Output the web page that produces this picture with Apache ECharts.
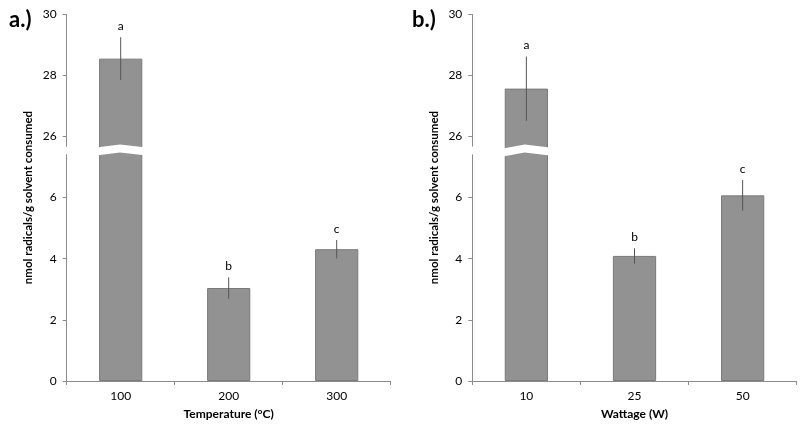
<!DOCTYPE html>
<html>
<head>
<meta charset="utf-8">
<script src="https://cdn.jsdelivr.net/npm/echarts@6/dist/echarts.min.js"></script>
<style>
  html, body { margin: 0; padding: 0; background: #fff; }
  #chart { width: 800px; height: 425px; }
</style>
</head>
<body>
<div id="chart"></div>
<script>
// panel a: temperature
const tempCats = ['100', '200', '300']
const tempMeans = [28.54, 3.04, 4.31]
const tempErr = [0.7, 0.35, 0.3]
const tempLetters = ['a', 'b', 'c']

// panel b: wattage
const wattCats = ['10', '25', '50']
const wattMeans = [27.56, 4.09, 6.07]
const wattErr = [1.05, 0.25, 0.5]
const wattLetters = ['a', 'b', 'c']

// y ticks shown on both sides of the axis break
const yTicks = [0, 2, 4, 6, 26, 28, 30]

const yName = 'nmol radicals/g solvent consumed'
const font = 'Lato, "Liberation Sans", sans-serif'
const axisGray = '#8c8c8c'

function yAxisFor(gridIndex) {
  return {
    type: 'value', gridIndex: gridIndex,
    min: 0, max: 30, interval: 2,
    breaks: [{ start: 7.4, end: 25.66, gap: '2.17%' }],
    breakArea: {
      show: true,
      itemStyle: { color: '#fff', borderColor: '#fff', borderWidth: 0, opacity: 1 },
      zigzagAmplitude: 2, zigzagMinSpan: 20, zigzagMaxSpan: 40,
      expandOnClick: false
    },
    name: yName, nameLocation: 'middle', nameGap: 32,
    nameTextStyle: { fontFamily: font, fontWeight: 'bold', fontSize: 11.5, color: '#000' },
    axisLine: { show: true, lineStyle: { color: axisGray } },
    axisTick: { show: true, length: 4, customValues: yTicks, lineStyle: { color: axisGray } },
    axisLabel: {
      fontFamily: font, fontSize: 12, color: '#000', margin: 10,
      customValues: yTicks
    },
    splitLine: { show: false }
  }
}

function xAxisFor(gridIndex, cats, name) {
  return {
    type: 'category', gridIndex: gridIndex, data: cats,
    name: name, nameLocation: 'middle', nameGap: 27,
    nameTextStyle: { fontFamily: font, fontWeight: 'bold', fontSize: 12, color: '#000' },
    axisLine: { lineStyle: { color: axisGray } },
    axisTick: { show: true, length: 4, lineStyle: { color: axisGray } },
    axisLabel: { fontFamily: font, fontSize: 12, color: '#000', margin: 9 }
  }
}

function barSeries(idx, means) {
  return {
    type: 'bar', xAxisIndex: idx, yAxisIndex: idx,
    data: means, barWidth: '40%',
    itemStyle: { color: '#929292', borderColor: '#7a7a7a', borderWidth: 1 },
    z: 2
  }
}

function errSeries(idx, means, errs, letters) {
  return {
    type: 'custom', xAxisIndex: idx, yAxisIndex: idx,
    data: means.map((m, i) => [i, m - errs[i], m + errs[i]]),
    renderItem: function (params, api) {
      const i = api.value(0)
      const lo = api.coord([i, api.value(1)])
      const hi = api.coord([i, api.value(2)])
      return {
        type: 'group',
        children: [
          { type: 'line', shape: { x1: lo[0], y1: lo[1], x2: hi[0], y2: hi[1] },
            style: { stroke: '#555', lineWidth: 1 } },
          { type: 'text', x: hi[0], y: hi[1] - 5,
            style: { text: letters[i], fill: '#000', fontSize: 12, fontFamily: font,
              align: 'center', verticalAlign: 'bottom' } }
        ]
      }
    },
    z: 200
  }
}

const chart = echarts.init(document.getElementById('chart'))
chart.setOption({
  animation: false,
  backgroundColor: '#fff',
  title: [
    { text: 'a.)', left: 4, top: 4, textStyle: { fontFamily: font, fontWeight: 'bold', fontSize: 22, color: '#000' } },
    { text: 'b.)', left: 407, top: 4, textStyle: { fontFamily: font, fontWeight: 'bold', fontSize: 22, color: '#000' } }
  ],
  grid: [
    { left: 66.7, right: 409.3, top: 14, bottom: 42.3 },
    { left: 472.3, right: 3.3, top: 14, bottom: 41.5 }
  ],
  xAxis: [
    xAxisFor(0, tempCats, 'Temperature (°C)'),
    xAxisFor(1, wattCats, 'Wattage (W)')
  ],
  yAxis: [yAxisFor(0), yAxisFor(1)],
  series: [
    barSeries(0, tempMeans),
    errSeries(0, tempMeans, tempErr, tempLetters),
    barSeries(1, wattMeans),
    errSeries(1, wattMeans, wattErr, wattLetters)
  ]
})
</script>
</body>
</html>
